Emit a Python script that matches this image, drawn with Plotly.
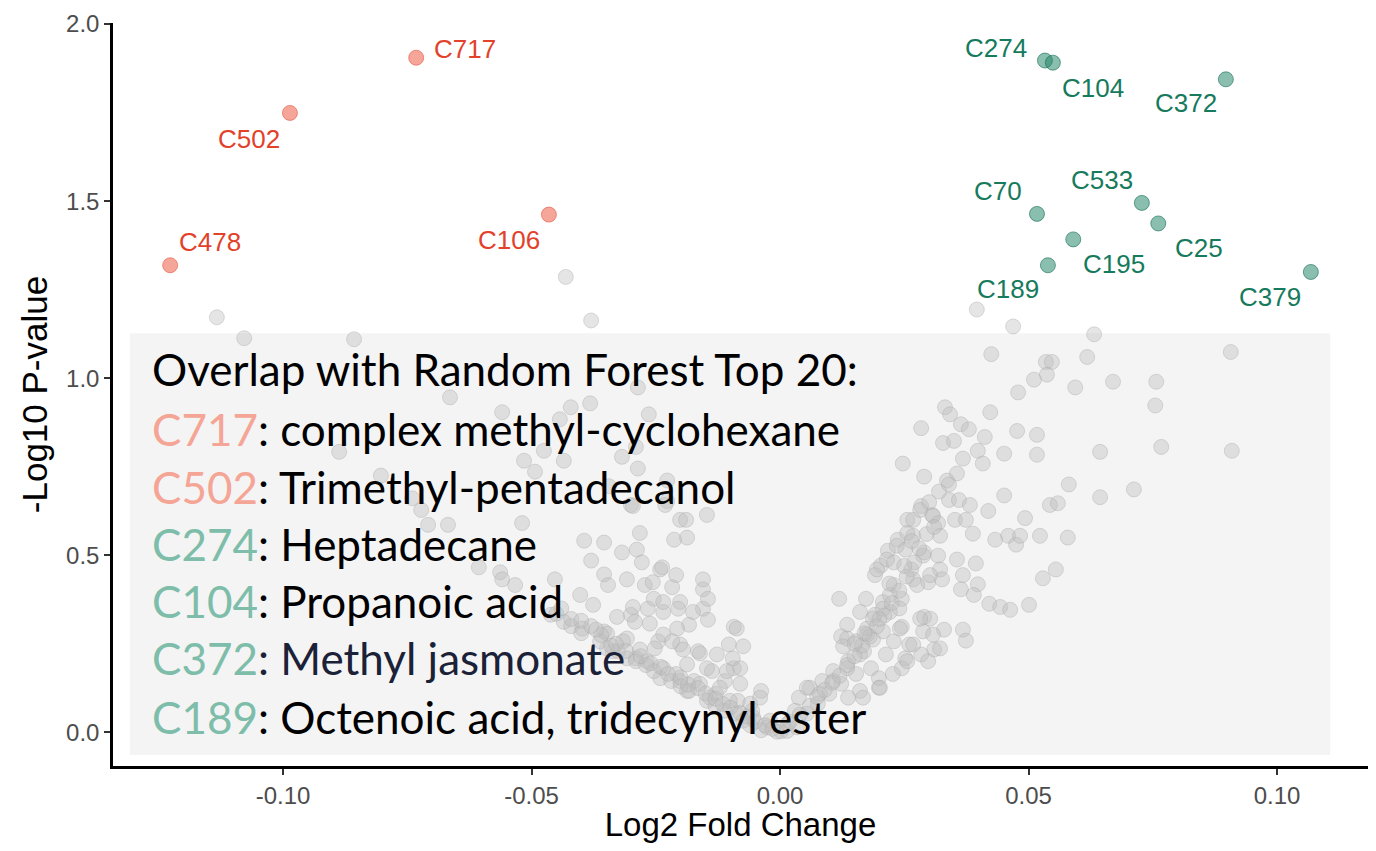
import plotly.graph_objects as go

# ---------------- data ----------------
grey_x = [
    -0.1133, -0.1078, -0.0857, -0.0431, -0.0380, 0.0396, 0.0469, 0.0632,
    -0.0664, -0.0421, -0.0382, -0.0286, -0.0559, -0.0443, -0.0264, -0.0887,
    -0.0515, -0.0475, -0.0435, -0.0318, -0.0290, -0.0286, -0.0493, -0.0803,
    -0.0344, -0.0227, -0.0740, -0.0722, -0.0300, -0.0227, -0.0201, -0.0147,
    -0.0519, -0.0708, -0.0668, -0.0282, -0.0394, -0.0354, -0.0213, -0.0187,
    -0.0318, -0.0278, -0.0606, -0.0563, -0.0380, -0.0241, -0.0209, -0.0559,
    -0.0354, -0.0308, -0.0272, -0.0533, -0.0453, -0.0402, -0.0155, -0.0376,
    -0.0254, -0.0201, -0.0155, -0.0461, -0.0435, -0.0300, -0.0235, -0.0183,
    -0.0398, -0.0354, -0.0308, -0.0093, -0.0245, -0.0201, -0.0165, -0.0103,
    -0.0074, -0.0336, -0.0290, -0.0235, -0.0209, -0.0173, -0.0137, -0.0111,
    -0.0093, -0.0038, -0.0129, -0.0085, -0.0056, -0.0020, 0.0002,
    -0.0296, -0.0231, -0.0189, -0.0288, -0.0237, -0.0346, -0.0256, -0.0217,
    -0.0155, -0.0145, -0.0145, -0.0296, -0.0266, -0.0235, -0.0205, -0.0175,
    -0.0328, -0.0292, -0.0262, -0.0235, -0.0207, -0.0087, -0.0348, -0.0316,
    -0.0282, -0.0252, -0.0217, -0.0195, -0.0161, -0.0127, -0.0095, -0.0348,
    -0.0308, -0.0268, -0.0187, -0.0147, -0.0107, -0.0080, -0.0241, -0.0201,
    -0.0161, -0.0121, -0.0080, -0.0187, -0.0141, -0.0101, -0.0060, -0.0040,
    -0.0087, -0.0054, -0.0026, -0.0006, 0.0014,
    -0.0362, -0.0326, -0.0290, -0.0254, -0.0219, -0.0183, -0.0147, -0.0111,
    -0.0074, -0.0038, -0.0340, -0.0270, -0.0200, -0.0130, -0.0060, -0.0420,
    -0.0450, -0.0400,
    -0.0380, -0.0360, -0.0330, -0.0310, -0.0280, -0.0260, -0.0240, -0.0225,
    -0.0200, -0.0185, -0.0165, -0.0150, -0.0130, -0.0115, -0.0100, -0.0080,
    -0.0065, -0.0050, -0.0030, -0.0015, -0.0420, -0.0440, -0.0400, -0.0370,
    0.0907, 0.0425, 0.0535, 0.0547, 0.0618, 0.0511, 0.0537, 0.0594,
    0.0670, 0.0757, 0.0755, 0.0479, 0.0332, 0.0342, 0.0423, 0.0284,
    0.0364, 0.0380, 0.0477, 0.0517, 0.0328, 0.0350, 0.0412, 0.0398,
    0.0451, 0.0517, 0.0644, 0.0767, 0.0909, 0.0247, 0.0368, 0.0408,
    0.0290, 0.0336, 0.0356, 0.0581, 0.0712, 0.0644, 0.0340, 0.0360,
    0.0382, 0.0451, 0.0543, 0.0559, 0.0419, 0.0284, 0.0493, 0.0256,
    0.0306, 0.0318, 0.0352, 0.0374, 0.0433, 0.0459, 0.0475, 0.0483,
    0.0523, 0.0579, 0.0388, 0.0237, 0.0268, 0.0322, 0.0217, 0.0252,
    0.0290, 0.0318, 0.0356, 0.0394, 0.0322, 0.0203, 0.0229, 0.0264,
    0.0555, 0.0529, 0.0368, 0.0398, 0.0364, 0.0390, 0.0191, 0.0229,
    0.0268, 0.0298, 0.0326, 0.0421, 0.0443, 0.0463, 0.0501, 0.0119,
    0.0173, 0.0207, 0.0245, 0.0161, 0.0191, 0.0221, 0.0290, 0.0302,
    0.0135, 0.0175, 0.0207, 0.0245, 0.0288, 0.0330, 0.0368, 0.0374,
    0.0123, 0.0153, 0.0187, 0.0229, 0.0260, 0.0310, 0.0127, 0.0169,
    0.0213, 0.0252, 0.0284, 0.0298, 0.0137, 0.0183, 0.0245, 0.0107,
    0.0153, 0.0199, 0.0085, 0.0123, 0.0161, 0.0199, 0.0060, 0.0099,
    0.0137, 0.0038, 0.0076, 0.0030, 0.0054, 0.0016, 0.0034,
    0.0054, 0.0080, 0.0107, 0.0135, 0.0161, 0.0135, 0.0175, 0.0187,
    0.0207, 0.0221, 0.0195, 0.0215, 0.0235, 0.0256, 0.0268, 0.0282,
    0.0308, 0.0288, 0.0302, 0.0276, 0.0282, 0.0308, 0.0322, 0.0256,
    0.0227, 0.0201, 0.0167, 0.0241, 0.0268,
    0.0020, 0.0040, 0.0060, 0.0075, 0.0090, 0.0105, 0.0120, 0.0135,
    0.0150, 0.0165, 0.0180, 0.0195, 0.0210, 0.0225, 0.0240, 0.0255,
    0.0270, 0.0280, 0.0295, 0.0310, 0.0240, 0.0200, 0.0170, 0.0150,
    0.0250, 0.0220, 0.0265, 0.0300, 0.0320, 0.0340,
]
grey_y = [
    1.172, 1.113, 1.110, 1.286, 1.163, 1.194, 1.146, 1.124,
    0.946, 0.918, 0.929, 0.974, 0.904, 0.884, 0.898, 0.792,
    0.767, 0.795, 0.767, 0.778, 0.806, 0.745, 0.736, 0.725,
    0.695, 0.711, 0.661, 0.628, 0.642, 0.653, 0.600, 0.614,
    0.591, 0.586, 0.586, 0.563, 0.541, 0.536, 0.544, 0.550,
    0.508, 0.480, 0.466, 0.452, 0.485, 0.460, 0.444, 0.432,
    0.446, 0.432, 0.416, 0.416, 0.432, 0.388, 0.404, 0.360,
    0.377, 0.368, 0.349, 0.332, 0.312, 0.332, 0.340, 0.304,
    0.293, 0.285, 0.265, 0.298, 0.257, 0.248, 0.229, 0.248,
    0.243, 0.229, 0.209, 0.181, 0.165, 0.145, 0.173, 0.145,
    0.181, 0.117, 0.109, 0.089, 0.061, 0.033, 0.003,
    0.639, 0.642, 0.600, 0.516, 0.466, 0.416, 0.424, 0.410,
    0.432, 0.377, 0.318, 0.354, 0.349, 0.368, 0.349, 0.340,
    0.326, 0.312, 0.307, 0.276, 0.293, 0.293, 0.279, 0.257,
    0.234, 0.237, 0.257, 0.234, 0.223, 0.220, 0.209, 0.237,
    0.209, 0.201, 0.192, 0.181, 0.173, 0.181, 0.153, 0.145,
    0.137, 0.126, 0.137, 0.117, 0.098, 0.089, 0.081, 0.098,
    0.053, 0.042, 0.014, 0.002, 0.004,
    0.257, 0.229, 0.201, 0.173, 0.145, 0.117, 0.089, 0.061,
    0.033, 0.006, 0.245, 0.190, 0.130, 0.075, 0.020, 0.300,
    0.335, 0.280,
    0.300, 0.275, 0.250, 0.230, 0.215, 0.195, 0.185, 0.165,
    0.155, 0.135, 0.125, 0.110, 0.095, 0.080, 0.070, 0.055,
    0.045, 0.030, 0.020, 0.010, 0.320, 0.350, 0.315, 0.290,
    1.074, 1.068, 1.046, 1.046, 1.060, 0.996, 1.010, 0.974,
    0.990, 0.990, 0.923, 0.960, 0.918, 0.898, 0.904, 0.859,
    0.870, 0.856, 0.851, 0.840, 0.817, 0.823, 0.834, 0.795,
    0.787, 0.784, 0.792, 0.806, 0.795, 0.759, 0.773, 0.759,
    0.722, 0.711, 0.731, 0.700, 0.686, 0.664, 0.656, 0.656,
    0.642, 0.669, 0.642, 0.647, 0.625, 0.639, 0.605, 0.600,
    0.614, 0.591, 0.600, 0.600, 0.544, 0.555, 0.530, 0.555,
    0.555, 0.550, 0.561, 0.544, 0.555, 0.555, 0.513, 0.516,
    0.508, 0.499, 0.488, 0.477, 0.460, 0.471, 0.480, 0.460,
    0.460, 0.435, 0.444, 0.418, 0.404, 0.388, 0.444, 0.416,
    0.432, 0.424, 0.432, 0.363, 0.354, 0.346, 0.360, 0.377,
    0.377, 0.368, 0.377, 0.340, 0.332, 0.340, 0.326, 0.321,
    0.304, 0.293, 0.285, 0.298, 0.285, 0.290, 0.290, 0.259,
    0.271, 0.257, 0.262, 0.257, 0.248, 0.234, 0.243, 0.229,
    0.220, 0.209, 0.220, 0.201, 0.201, 0.181, 0.181, 0.173,
    0.165, 0.153, 0.145, 0.137, 0.117, 0.126, 0.126, 0.109,
    0.098, 0.098, 0.081, 0.061, 0.053, 0.025, 0.014,
    0.126, 0.109, 0.145, 0.181, 0.220, 0.265, 0.276, 0.321,
    0.349, 0.388, 0.460, 0.488, 0.527, 0.563, 0.600, 0.628,
    0.611, 0.499, 0.444, 0.416, 0.321, 0.276, 0.237, 0.201,
    0.165, 0.126, 0.098, 0.293, 0.248,
    0.030, 0.050, 0.075, 0.100, 0.120, 0.140, 0.160, 0.190,
    0.215, 0.245, 0.270, 0.300, 0.330, 0.365, 0.400, 0.440,
    0.480, 0.520, 0.560, 0.580, 0.350, 0.320, 0.280, 0.250,
    0.470, 0.420, 0.540, 0.650, 0.680, 0.700,
]

down_names = ["C717", "C502", "C478", "C106"]
down_x = [-0.0732, -0.0986, -0.1227, -0.0465]
down_y = [1.905, 1.749, 1.319, 1.462]

up_names = ["C274", "C104", "C372", "C70", "C533", "C25", "C195", "C189", "C379"]
up_x = [0.0533, 0.0549, 0.0897, 0.0517, 0.0728, 0.0761, 0.0590, 0.0539, 0.1068]
up_y = [1.897, 1.891, 1.844, 1.464, 1.495, 1.437, 1.392, 1.319, 1.300]

x_tick_vals = [-0.10, -0.05, 0.00, 0.05, 0.10]
x_tick_text = ["-0.10", "-0.05", "0.00", "0.05", "0.10"]
y_tick_vals = [0.0, 0.5, 1.0, 1.5, 2.0]
y_tick_text = ["0.0", "0.5", "1.0", "1.5", "2.0"]

box_title = "Overlap with Random Forest Top 20:"
box_ids = ["C717", "C502", "C274", "C104", "C372", "C189"]
box_groups = ["down", "down", "up", "up", "up", "up"]
box_desc = ["complex methyl-cyclohexane", "Trimethyl-pentadecanol", "Heptadecane",
            "Propanoic acid", "Methyl jasmonate", "Octenoic acid, tridecynyl ester"]

# ---------------- styling / layout (pixel offsets of labels) ----------------
down_offsets = [(49, 9), (-41, -26), (40, 23), (-40, -25)]
up_offsets = [(-49, 13), (40, -25), (-40, -24), (-39, 23), (-40, 23),
              (41, -25), (41, -25), (-40, -24), (-41, -25)]

RED_LABEL = "#E2412A"
GREEN_LABEL = "#167A5C"
RED_PREFIX = "#F5A595"
GREEN_PREFIX = "#7DBDA9"
desc_colors = ["#000000", "#000000", "#000000", "#000000", "#1B2238", "#000000"]
AX_FONT = "Liberation Sans, Arial"

fig = go.Figure()

fig.add_trace(go.Scatter(
    x=grey_x, y=grey_y, mode="markers",
    marker=dict(size=15, color="rgba(190,190,190,0.40)",
                line=dict(color="rgba(170,170,170,0.40)", width=1)),
    hoverinfo="skip", showlegend=False))

fig.add_trace(go.Scatter(
    x=down_x, y=down_y, mode="markers", text=down_names,
    marker=dict(size=15, color="rgba(240,105,85,0.6)",
                line=dict(color="rgba(225,85,65,0.6)", width=1)),
    showlegend=False))

fig.add_trace(go.Scatter(
    x=up_x, y=up_y, mode="markers", text=up_names,
    marker=dict(size=15, color="rgba(30,130,100,0.52)",
                line=dict(color="rgba(20,110,85,0.6)", width=1)),
    showlegend=False))

annotations = []
for name, x, y, (dx, dy) in zip(down_names, down_x, down_y, down_offsets):
    annotations.append(dict(x=x, y=y, xref="x", yref="y", text=name, showarrow=False,
                            xshift=dx, yshift=dy,
                            font=dict(family=AX_FONT, size=26, color=RED_LABEL)))
for name, x, y, (dx, dy) in zip(up_names, up_x, up_y, up_offsets):
    annotations.append(dict(x=x, y=y, xref="x", yref="y", text=name, showarrow=False,
                            xshift=dx, yshift=dy,
                            font=dict(family=AX_FONT, size=26, color=GREEN_LABEL)))

# text box lines
line_y = [1.025, 0.856, 0.694, 0.532, 0.370, 0.209, 0.044]
box_font = "Lato, Open Sans, sans-serif"
annotations.append(dict(x=-0.1268, y=line_y[0], xref="x", yref="y", text=box_title,
                        showarrow=False, xanchor="left", yanchor="middle",
                        font=dict(family=box_font, size=44, color="#000000")))
for i, (cid, grp, desc) in enumerate(zip(box_ids, box_groups, box_desc)):
    pc = RED_PREFIX if grp == "down" else GREEN_PREFIX
    txt = (f"<span style='color:{pc}'>{cid}</span>"
           f"<span style='color:{desc_colors[i]}'>: {desc}</span>")
    annotations.append(dict(x=-0.1268, y=line_y[i + 1], xref="x", yref="y", text=txt,
                            showarrow=False, xanchor="left", yanchor="middle",
                            font=dict(family=box_font, size=44, color="#000000")))

fig.add_shape(type="rect", xref="x", yref="y", x0=-0.1308, x1=0.1107, y0=-0.064, y1=1.127,
              fillcolor="#F4F4F4", line=dict(width=0), layer="below")

# page body adds an 8px margin, so the figure is sized/placed to compensate
fig.update_layout(
    width=1360, height=835,
    margin=dict(l=105, r=0, t=15, b=77),
    paper_bgcolor="white", plot_bgcolor="white",
    annotations=annotations,
    showlegend=False,
)
fig.update_xaxes(
    range=[-0.1342, 0.1183], showgrid=False, zeroline=False,
    showline=True, linecolor="black", linewidth=2.5,
    ticks="outside", ticklen=6, tickwidth=1.5, tickcolor="#333333",
    tickvals=x_tick_vals, ticktext=x_tick_text,
    tickfont=dict(family=AX_FONT, size=24, color="#4D4D4D"),
    title=dict(text="Log2 Fold Change", standoff=12,
               font=dict(family=AX_FONT, size=33, color="black")),
)
fig.update_yaxes(
    range=[-0.095, 2.003], showgrid=False, zeroline=False, automargin=False,
    showline=True, linecolor="black", linewidth=2.5,
    ticks="outside", ticklen=6, tickwidth=1.5, tickcolor="#333333",
    tickvals=y_tick_vals, ticktext=y_tick_text, ticklabeloverflow="allow",
    tickfont=dict(family=AX_FONT, size=24, color="#4D4D4D"),
    title=dict(text="-Log10 P-value", standoff=8,
               font=dict(family=AX_FONT, size=35, color="black")),
)

fig.write_html("out.html")
